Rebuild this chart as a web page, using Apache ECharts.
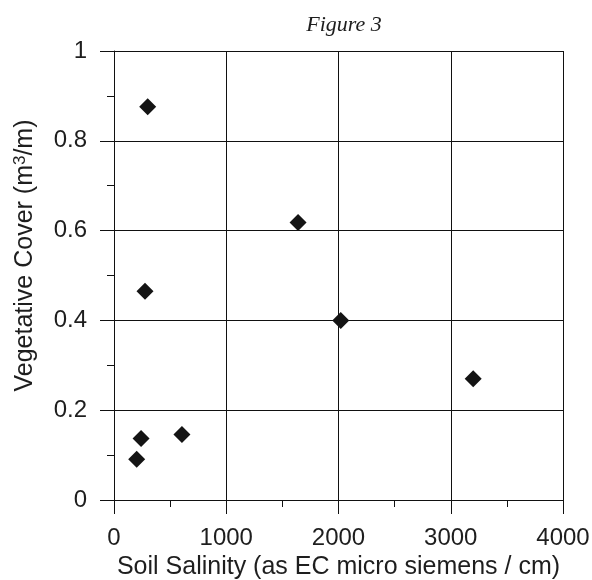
<!DOCTYPE html>
<html>
<head>
<meta charset="utf-8">
<style>
  html, body { margin: 0; padding: 0; background: #fff; }
  #chart { width: 592px; height: 580px; }
</style>
<script src="https://cdn.jsdelivr.net/npm/echarts@6/dist/echarts.min.js"></script>
</head>
<body>
<div id="chart"></div>
<script>
// Soil salinity (EC, micro siemens / cm) against vegetative cover (m3/m)
const salinity = [300, 1640, 276, 2020, 3200, 241, 605, 202];
const cover    = [0.876, 0.618, 0.465, 0.40, 0.27, 0.137, 0.146, 0.091];

const xTicks = [0, 1000, 2000, 3000, 4000];
const yTicks = [0, 0.2, 0.4, 0.6, 0.8, 1];

const points = salinity.map((s, i) => [s, cover[i]]);

const ink = '#111111';
const tickFont = { fontFamily: 'Liberation Sans', fontSize: 24, color: '#1e1e1e' };
const titleFont = { fontFamily: 'Liberation Sans', fontSize: 25, color: '#1e1e1e' };

const chart = echarts.init(document.getElementById('chart'), null, { renderer: 'canvas' });
chart.setOption({
  animation: false,
  backgroundColor: '#ffffff',
  title: {
    text: 'Figure 3',
    left: 339,
    top: 9,
    textAlign: 'center',
    textStyle: {
      fontFamily: 'Liberation Serif',
      fontStyle: 'italic',
      fontWeight: 'normal',
      fontSize: 22,
      color: '#1e1e1e'
    }
  },
  grid: { left: 114, right: 29, top: 51, bottom: 80, containLabel: false, outerBoundsMode: 'none' },
  xAxis: {
    type: 'value',
    min: xTicks[0],
    max: xTicks[xTicks.length - 1],
    interval: 1000,
    name: 'Soil Salinity (as EC micro siemens / cm)',
    nameLocation: 'middle',
    nameGap: 53,
    nameTextStyle: titleFont,
    axisLine: { show: true, lineStyle: { color: ink, width: 1 } },
    axisTick: { show: true, inside: false, length: 14, lineStyle: { color: ink, width: 1 } },
    minorTick: { show: true, splitNumber: 2, length: 7, lineStyle: { color: ink, width: 1 } },
    axisLabel: { ...tickFont, margin: 26, formatter: v => String(v) },
    splitLine: { show: true, showMinLine: true, showMaxLine: true, lineStyle: { color: ink, width: 1 } }
  },
  yAxis: {
    type: 'value',
    min: yTicks[0],
    max: yTicks[yTicks.length - 1],
    interval: 0.2,
    name: '{t|Vegetative Cover (m}{s|3}{t|/m)}',
    nameLocation: 'middle',
    nameGap: 76,
    nameRotate: 90,
    nameTextStyle: {
      padding: [0, 0, 0, 40],
      rich: {
        t: { fontFamily: 'Liberation Sans', fontSize: 25, color: '#1e1e1e' },
        s: { fontFamily: 'Liberation Sans', fontSize: 17, color: '#1e1e1e', verticalAlign: 'top', padding: [0, 0, 9, 0] }
      }
    },
    axisLine: { show: true, lineStyle: { color: ink, width: 1 } },
    axisTick: { show: true, inside: false, length: 14, lineStyle: { color: ink, width: 1 } },
    minorTick: { show: true, splitNumber: 2, length: 7, lineStyle: { color: ink, width: 1 } },
    axisLabel: {
      ...tickFont,
      margin: 27,
      formatter: v => String(Math.round(v * 10) / 10)
    },
    splitLine: { show: true, showMinLine: true, showMaxLine: true, lineStyle: { color: ink, width: 1 } }
  },
  series: [{
    type: 'scatter',
    data: points,
    symbol: 'diamond',
    symbolSize: 17,
    itemStyle: { color: '#141414', opacity: 1 }
  }]
});
</script>
</body>
</html>
